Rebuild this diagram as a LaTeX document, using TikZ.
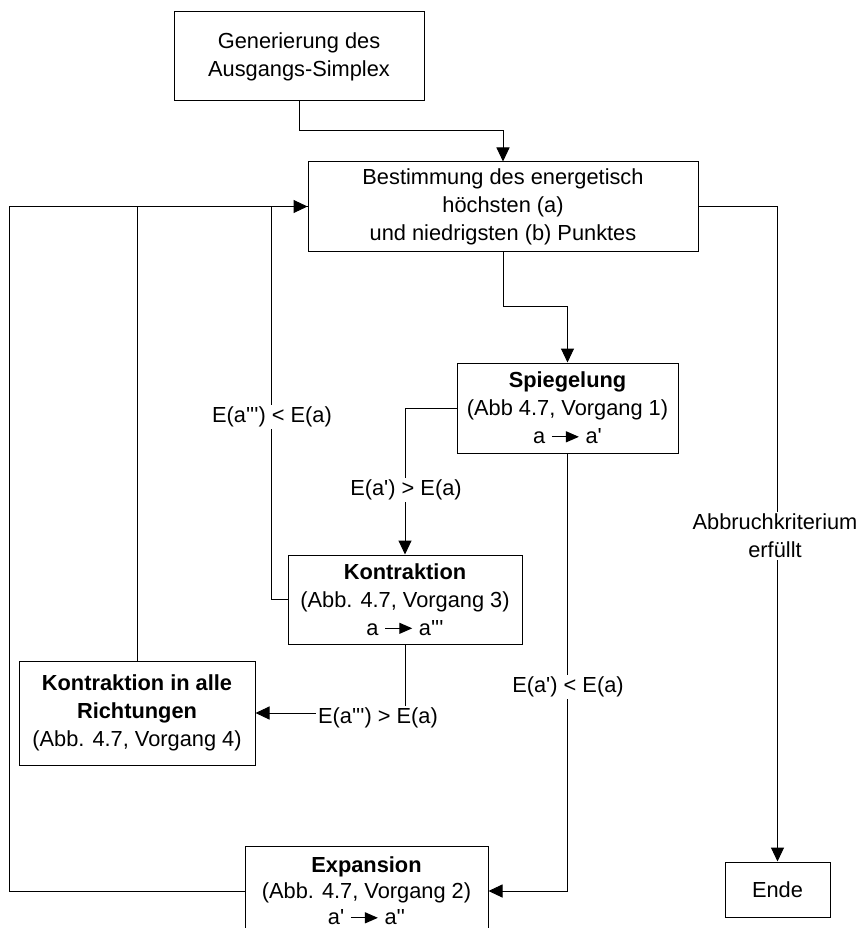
\documentclass[tikz,border=0pt]{standalone}
\usepackage{fontspec}
\setmainfont{Liberation Sans}[Ligatures=TeXOff]
\usetikzlibrary{arrows.meta}

% small arrow used inside the box texts (a -> a')
\newcommand\flowarrow{\tikz[x=1pt,y=1pt,baseline=-0.32em]\draw[line width=1.2pt,-{Triangle[length=13pt,width=11pt]}] (0,0) -- (27,0);}

\tikzset{
  box/.style={draw, line width=1pt, align=center, inner sep=0pt,
              font=\fontsize{21.8}{28}\selectfont},
  lbl/.style={fill=white, align=center, inner sep=2pt,
              font=\fontsize{21.8}{28}\selectfont},
  link/.style={line width=1pt},
  arrowlink/.style={line width=1pt, -{Triangle[length=14pt,width=13pt]}},
}

\begin{document}
\begin{tikzpicture}[x=1pt,y=-1pt]
  \useasboundingbox (0,0) rectangle (859,928);
  \fill[white] (0,0) rectangle (859,928);
  \clip (0,0) rectangle (859,928);

  % process boxes
  \node[box, minimum width=250, minimum height=89] (gen) at (299,56.5)
    {Generierung des\\Ausgangs-Simplex};
  \node[box, minimum width=390, minimum height=89] (best) at (503,206.5)
    {Bestimmung des energetisch\\h\"ochsten (a)\\und niedrigsten (b) Punktes};
  \node[box, minimum width=221, minimum height=90] (spie) at (567.5,408)
    {\textbf{Spiegelung}\\(Abb 4.7, Vorgang 1)\\a \flowarrow{} a'};
  \node[box, minimum width=234, minimum height=89] (kont) at (405,599.5)
    {\textbf{Kontraktion}\\(Abb. 4.7, Vorgang 3)\\a \flowarrow{} a'''};
  \node[box, minimum width=236, minimum height=104] (kall) at (137,713)
    {\textbf{Kontraktion in alle}\\\textbf{Richtungen}\\(Abb. 4.7, Vorgang 4)};
  \node[box, minimum width=243, minimum height=90,
        font=\fontsize{21.8}{26}\selectfont] (expa) at (366.5,891)
    {\textbf{Expansion}\\(Abb. 4.7, Vorgang 2)\\a' \flowarrow{} a''};
  \node[box, minimum width=105, minimum height=55] (ende) at (777.5,889.5)
    {Ende};

  \coordinate (loopleft) at (9,891);

  % connectors
  \draw[arrowlink] (gen.south) -- ++(0,29) -| (best.north);
  \draw[arrowlink] (best.south) -- ++(0,55) -| (spie.north);
  \draw[arrowlink] (spie.west) -| (kont.north);
  \draw[arrowlink] (spie.south) |- (expa.east);
  \draw[link] (kont.west) -- ++(-16,0) |- (best.west);
  \draw[arrowlink] (kont.south) |- (kall.east);
  \draw[link] (kall.north) -- (kall.north |- best.west);
  \draw[arrowlink] (expa.west) -- (loopleft) |- (best.west);
  \draw[arrowlink] (best.east) -| (ende.north);

  % connector labels
  \node[lbl] (l1) at (406,490) {E(a') > E(a)};
  \node[lbl] (l2) at (568,687) {E(a') < E(a)};
  \node[lbl] (l3) at (272,417) {E(a''') < E(a)};
  \node[lbl] (l4) at (378,718) {E(a''') > E(a)};
  \node[lbl] (l5) at (775,536) {Abbruchkriterium\\erf\"ullt};
\end{tikzpicture}
\end{document}
